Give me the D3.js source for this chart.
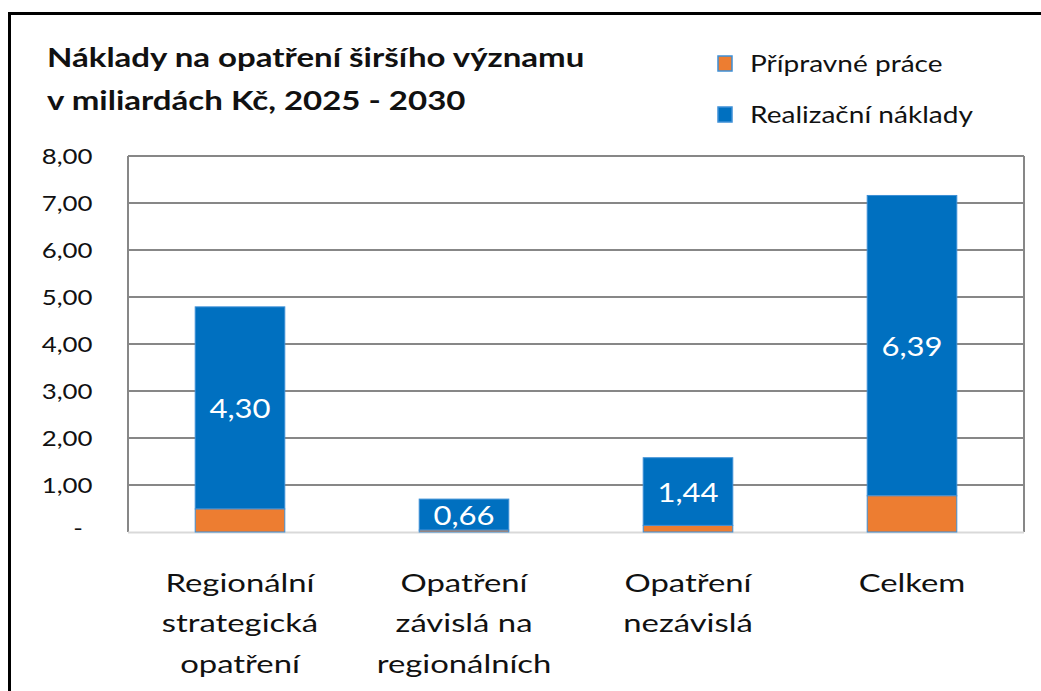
<!DOCTYPE html>
<html><head><meta charset="utf-8">
<script src="https://cdn.jsdelivr.net/npm/d3@7"></script>
<style>
body{margin:0;background:#fff;}
svg{display:block;font-family:Lato,"Open Sans",sans-serif;}
</style></head>
<body><svg id="c" width="1041" height="691"></svg>
<script>
const categories = [["Regionální","strategická","opatření"],["Opatření","závislá na","regionálních"],["Opatření","nezávislá"],["Celkem"]];
const categoryKeys = ["Regionální strategická opatření","Opatření závislá na regionálních","Opatření nezávislá","Celkem"];
const pripravne = [0.49, 0.04, 0.14, 0.77];
const realizacni = [4.30, 0.66, 1.44, 6.39];
const seriesNames = ["Přípravné práce","Realizační náklady"];
const yTicks = [0,1,2,3,4,5,6,7,8];
const titleLines = ["Náklady na opatření širšího významu","v miliardách Kč, 2025 - 2030"];

const colors = ["#ED7D31","#0070C0"];
const svg = d3.select("#c");
const M = {left:128, right:1024, top:156, bottom:532};

// outer frame
svg.append("path").attr("d","M9.5,700 L9.5,13.5 L1050,13.5").attr("fill","none").attr("stroke","#000").attr("stroke-width",3);

const x = d3.scaleBand().domain(categoryKeys).range([M.left,M.right]).paddingInner(0.6).paddingOuter(0.3);
const y = d3.scaleLinear().domain([0,8]).range([M.bottom,M.top]);

// gridlines
const g = svg.append("g");
g.selectAll("line.grid").data(yTicks.filter(d=>d>0)).join("line")
 .attr("x1",M.left).attr("x2",M.right).attr("y1",d=>y(d)).attr("y2",d=>y(d))
 .attr("stroke","#878787").attr("stroke-width",2);
g.append("line").attr("x1",M.left).attr("x2",M.left).attr("y1",M.top).attr("y2",M.bottom).attr("stroke","#878787").attr("stroke-width",2);
g.append("line").attr("x1",M.right).attr("x2",M.right).attr("y1",M.top).attr("y2",M.bottom).attr("stroke","#878787").attr("stroke-width",2);
g.append("line").attr("x1",M.left).attr("x2",M.right).attr("y1",M.bottom+0.5).attr("y2",M.bottom+0.5).attr("stroke","#d9d9d9").attr("stroke-width",2);

// y axis labels
const fmt = d => d===0 ? "-" : d3.format(".2f")(d).replace(".",",");
svg.append("g").selectAll("text").data(yTicks).join("text")
 .attr("transform",d=>`translate(${d===0?78:92.5},${y(d)+(d===0?4:7.5)}) scale(1.23,1)`)
 .attr("text-anchor",d=>d===0?"middle":"end")
 .attr("font-size",21).attr("fill","#111")
 .text(fmt);

// bars
const stack = categoryKeys.map((k,i)=>({k, a:pripravne[i], b:realizacni[i]}));
const bars = svg.append("g");
bars.selectAll("rect.blue").data(stack).join("rect")
 .attr("x",d=>x(d.k)).attr("width",x.bandwidth())
 .attr("y",d=>y(d.a+d.b)).attr("height",d=>y(d.a)-y(d.a+d.b))
 .attr("fill",colors[1]).attr("stroke","#3d8fd6").attr("stroke-width",1);
bars.selectAll("rect.orange").data(stack).join("rect")
 .attr("x",d=>x(d.k)).attr("width",x.bandwidth())
 .attr("y",d=>y(d.a)).attr("height",d=>y(0)-y(d.a))
 .attr("fill",colors[0]).attr("stroke","#3d8fd6").attr("stroke-width",1);
// data labels
bars.selectAll("text").data(stack).join("text")
 .attr("transform",d=>`translate(${x(d.k)+x.bandwidth()/2},${(y(d.a)+y(d.a+d.b))/2+10}) scale(1.15,1)`)
 .attr("text-anchor","middle").attr("fill","#fff").attr("font-size",27)
 .text(d=>d3.format(".2f")(d.b).replace(".",","));

// category labels
const cl = svg.append("g");
categories.forEach((lines,i)=>{
  const t = cl.append("text").attr("text-anchor","middle").attr("font-size",24.5).attr("fill","#111")
    .attr("transform",`translate(${x(categoryKeys[i])+x.bandwidth()/2},0) scale(1.34,1)`);
  lines.forEach((ln,j)=>t.append("tspan").attr("x",0).attr("y",592+j*40.5).text(ln));
});

// title
svg.append("g").selectAll("text").data(titleLines).join("text")
 .attr("transform",(d,i)=>`translate(47,${67+i*43}) scale(1.27,1)`)
 .attr("font-size",26).attr("font-weight","bold").attr("fill","#111")
 .text(d=>d);

// legend
const lg = svg.append("g");
seriesNames.forEach((n,i)=>{
  const base = 72+i*51;
  lg.append("rect").attr("x",718).attr("y",base-16).attr("width",14).attr("height",15)
    .attr("fill",colors[i]).attr("stroke","#3d8fd6").attr("stroke-width",1.5);
  lg.append("text").attr("transform",`translate(750,${base}) scale(1.22,1)`).attr("font-size",23).attr("fill","#111").text(n);
});
</script></body></html>
